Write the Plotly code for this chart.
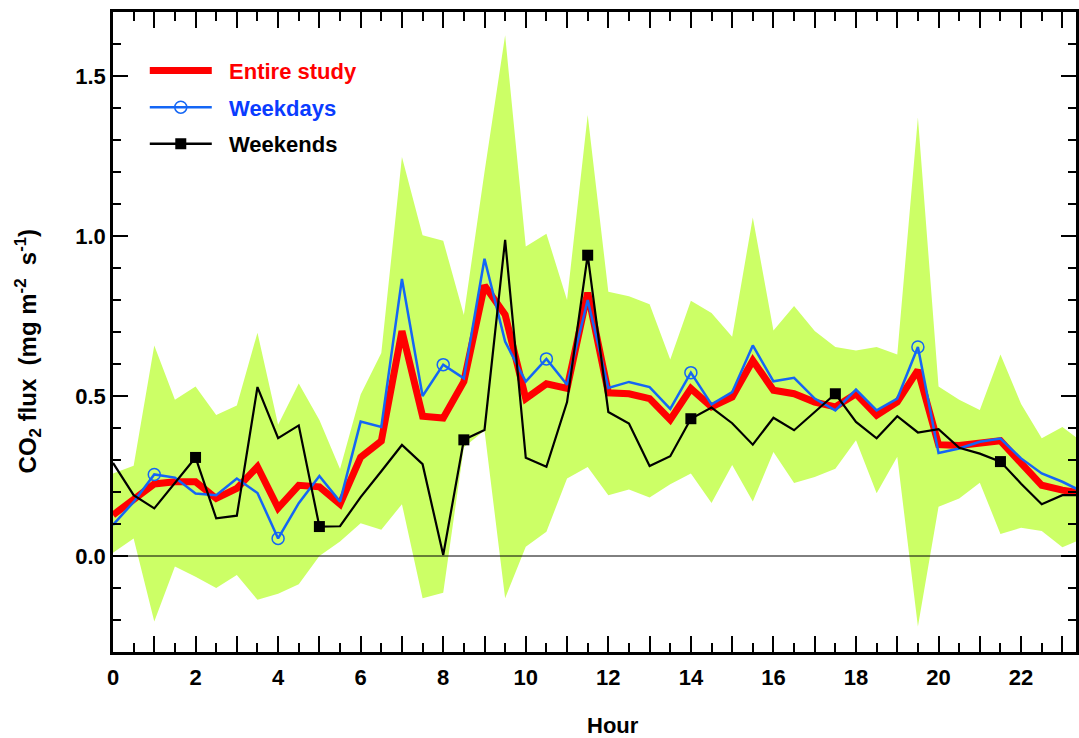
import plotly.graph_objects as go

# Half-hourly diurnal CO2 flux (mg m-2 s-1)
hours = [i * 0.5 for i in range(48)]

entire_study = [
    0.128, 0.175, 0.225, 0.232, 0.232, 0.180, 0.211, 0.279, 0.150, 0.221,
    0.216, 0.162, 0.309, 0.359, 0.703, 0.437, 0.431, 0.545, 0.845, 0.754,
    0.492, 0.538, 0.524, 0.823, 0.510, 0.507, 0.492, 0.426, 0.523, 0.466,
    0.497, 0.611, 0.518, 0.507, 0.481, 0.466, 0.507, 0.440, 0.481, 0.581,
    0.348, 0.345, 0.352, 0.360, 0.290, 0.221, 0.206, 0.195,
]

weekdays = [
    0.097, 0.169, 0.255, 0.245, 0.195, 0.190, 0.242, 0.197, 0.055, 0.165,
    0.250, 0.170, 0.420, 0.403, 0.866, 0.500, 0.598, 0.555, 0.929, 0.670,
    0.545, 0.616, 0.535, 0.800, 0.525, 0.544, 0.528, 0.460, 0.573, 0.474,
    0.512, 0.658, 0.546, 0.557, 0.492, 0.455, 0.520, 0.455, 0.492, 0.653,
    0.322, 0.336, 0.357, 0.367, 0.305, 0.258, 0.232, 0.200,
]

weekends = [
    0.291, 0.190, 0.149, 0.227, 0.308, 0.118, 0.126, 0.528, 0.368, 0.408,
    0.092, 0.093, 0.184, 0.265, 0.347, 0.287, 0.003, 0.363, 0.394, 0.988,
    0.307, 0.279, 0.481, 0.940, 0.450, 0.414, 0.281, 0.312, 0.429, 0.464,
    0.415, 0.348, 0.432, 0.393, 0.450, 0.507, 0.419, 0.368, 0.437, 0.386,
    0.396, 0.338, 0.320, 0.295, 0.226, 0.162, 0.190, 0.190,
]

# Spread envelope of the entire-study flux
band_upper = [
    0.258, 0.282, 0.658, 0.488, 0.530, 0.441, 0.470, 0.698, 0.410, 0.539,
    0.425, 0.272, 0.505, 0.634, 1.247, 1.002, 0.985, 0.753, 1.200, 1.627,
    0.967, 1.007, 0.800, 1.378, 0.826, 0.812, 0.787, 0.614, 0.798, 0.759,
    0.685, 1.058, 0.705, 0.781, 0.703, 0.653, 0.642, 0.653, 0.630, 1.370,
    0.530, 0.488, 0.456, 0.630, 0.475, 0.368, 0.403, 0.355,
]

band_lower = [
    0.010, 0.055, -0.205, -0.033, -0.065, -0.100, -0.059, -0.137, -0.118, -0.088,
    0.000, 0.045, 0.102, 0.082, 0.162, -0.132, -0.115, 0.340, 0.392, -0.132,
    0.029, 0.076, 0.242, 0.278, 0.190, 0.208, 0.183, 0.224, 0.258, 0.166,
    0.284, 0.170, 0.325, 0.228, 0.247, 0.273, 0.362, 0.196, 0.310, -0.220,
    0.154, 0.180, 0.229, 0.069, 0.088, 0.078, 0.027, 0.055,
]

# Hours at which symbols are drawn on each series
weekday_marker_hours = [1, 4, 8, 10.5, 14, 19.5]
weekend_marker_hours = [2, 5, 8.5, 11.5, 14, 17.5, 21.5]

RED = "#FF0000"
BLUE = "#1466F5"
BLUE_TEXT = "#0A3CFF"
GREEN = "#CCFF66"
FONT = "Liberation Sans, Arial, sans-serif"
PAD = "&nbsp;&nbsp;"


def pick(values, at_hours):
    return [values[hours.index(h)] for h in at_hours]


fig = go.Figure()

# Envelope
fig.add_trace(go.Scatter(x=hours, y=band_lower, mode="lines", line=dict(width=0, color=GREEN),
                         showlegend=False, hoverinfo="skip"))
fig.add_trace(go.Scatter(x=hours, y=band_upper, mode="lines", line=dict(width=0, color=GREEN),
                         fill="tonexty", fillcolor=GREEN, showlegend=False, hoverinfo="skip"))

# Zero reference line
fig.add_trace(go.Scatter(x=[hours[0], hours[-1]], y=[0, 0], mode="lines",
                         line=dict(color="black", width=1), showlegend=False, hoverinfo="skip"))

# Series lines
fig.add_trace(go.Scatter(x=hours, y=entire_study, mode="lines", line=dict(color=RED, width=7),
                         legendgroup="entire", showlegend=False))
fig.add_trace(go.Scatter(x=hours, y=weekdays, mode="lines", line=dict(color=BLUE, width=2.5),
                         legendgroup="weekdays", showlegend=False))
fig.add_trace(go.Scatter(x=weekday_marker_hours, y=pick(weekdays, weekday_marker_hours), mode="markers",
                         marker=dict(symbol="circle-open", size=12, color=BLUE, line=dict(width=1.5)),
                         legendgroup="weekdays", showlegend=False))
fig.add_trace(go.Scatter(x=hours, y=weekends, mode="lines", line=dict(color="black", width=2.2),
                         legendgroup="weekends", showlegend=False))
fig.add_trace(go.Scatter(x=weekend_marker_hours, y=pick(weekends, weekend_marker_hours), mode="markers",
                         marker=dict(symbol="square", size=11, color="black"),
                         legendgroup="weekends", showlegend=False))

# Legend entries
fig.add_trace(go.Scatter(x=[None], y=[None], mode="lines", line=dict(color=RED, width=7),
                         name=f"{PAD}<span style='color:{RED}'>Entire study</span>", legendgroup="entire"))
fig.add_trace(go.Scatter(x=[None], y=[None], mode="lines+markers", line=dict(color=BLUE, width=2.5),
                         marker=dict(symbol="circle-open", size=12, color=BLUE, line=dict(width=1.5)),
                         name=f"{PAD}<span style='color:{BLUE_TEXT}'>Weekdays</span>", legendgroup="weekdays"))
fig.add_trace(go.Scatter(x=[None], y=[None], mode="lines+markers", line=dict(color="black", width=2.5),
                         marker=dict(symbol="square", size=11, color="black"),
                         name=f"{PAD}Weekends", legendgroup="weekends"))

axis_common = dict(
    showline=True, linecolor="black", linewidth=2.5, mirror="allticks",
    ticks="inside", tickcolor="black", tickwidth=2, showgrid=False, zeroline=False,
    tickfont=dict(family=FONT, size=22, color="black", weight="bold"),
)

fig.update_xaxes(
    **axis_common, range=[0, 23.33], tick0=0, dtick=1, ticklabelstep=2,
    ticklen=16, ticklabelstandoff=4,
    minor=dict(ticks="inside", dtick=0.5, ticklen=9, tickwidth=2, tickcolor="black"),
)
fig.update_yaxes(
    **axis_common, range=[-0.3, 1.7], dtick=0.5, tick0=0, tickformat=".1f", ticklen=15,
    minor=dict(ticks="inside", dtick=0.1, ticklen=8, tickwidth=2, tickcolor="black"),
)

fig.add_annotation(text="Hour", xref="paper", yref="paper", x=0.519, y=-0.115, yanchor="middle",
                   showarrow=False, font=dict(family=FONT, size=22, color="black", weight="bold"))
fig.add_annotation(text="CO<sub>2</sub> flux  (mg m<sup>-2</sup>  s<sup>-1</sup>)", textangle=-90,
                   xref="paper", yref="paper", x=-0.088, y=0.47, xanchor="center", yanchor="middle",
                   showarrow=False, font=dict(family=FONT, size=24, color="black", weight="bold"))

fig.update_layout(
    width=1079, height=738,
    margin=dict(l=113, r=0, t=12, b=86),
    paper_bgcolor="white", plot_bgcolor="white",
    legend=dict(x=0.033, y=0.941, xanchor="left", yanchor="top", bgcolor="rgba(0,0,0,0)",
                font=dict(family=FONT, size=22, color="black", weight="bold"),
                tracegroupgap=5, itemwidth=62),
    showlegend=True,
)

fig.write_html("out.html")
